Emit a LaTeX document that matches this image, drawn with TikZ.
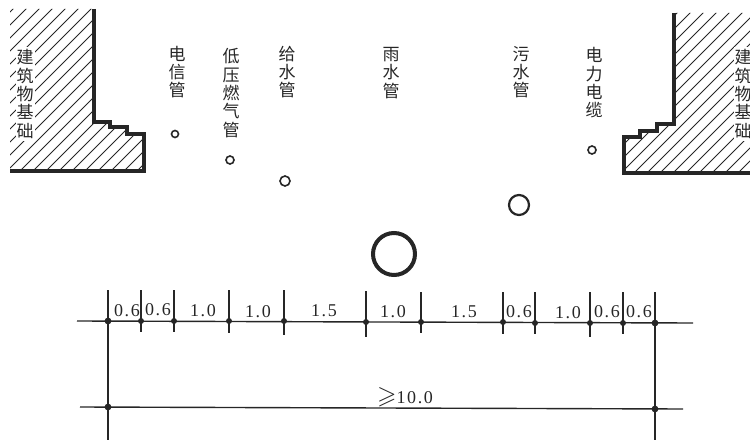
\documentclass[tikz,border=0pt]{standalone}
\usepackage{amsmath,amssymb}
\usepackage{fontspec}
\newfontfamily\cjk{Noto Sans CJK SC}
\newfontfamily\dmfont[LetterSpace=9]{Liberation Serif}
\definecolor{ink}{HTML}{262626}
\newcommand{\sz}{\fontsize{17}{18.3}\selectfont}
\newcommand{\dm}[1]{\dmfont\fontsize{18}{18}\selectfont #1}
\tikzset{
	pipename/.style={align=center,inner sep=0pt,font=\cjk\sz,text=ink},
	basename/.style={pipename,fill=white,inner xsep=1pt,inner ysep=3pt},
	size/.style={inner sep=0pt,text=ink},
	pipe/.style={draw=ink,line width=1.6pt},
	dimline/.style={ink,line width=1.4pt},
}

\begin{document}
\begin{tikzpicture}[x=1pt,y=-1pt]
	\useasboundingbox (0,0) rectangle (750,441);
	
	% left base
	\begin{scope}
		\clip (10,9)--(94,9)--(94,122)--(110,122)--(110,127)--(127,127)--(127,134)--(144,134)--(144,171)--(10,171)--cycle;
		\foreach \c in {22,35,...,320}
			\draw[ink,line width=.9pt] (\c,0)--(0,\c);
	\end{scope}
	\draw[ink,line width=3.2pt] (94,9)--(94,122)--(110,122)--(110,127)--(127,127)--(127,134)--(144,134)--(144,171)--(10,171);
	\node[basename] (baseL) at (25,94) {建\\筑\\物\\基\\础};
	
	% right base
	\begin{scope}
		\clip (674,13)--(750,13)--(750,173)--(624,173)--(624,137)--(640,137)--(640,131)--(657,131)--(657,124)--(674,124)--cycle;
		\foreach \c in {690,703,...,950}
			\draw[ink,line width=.9pt] (\c,0)--(0,\c);
	\end{scope}
	\draw[ink,line width=3.2pt] (674,13)--(674,124)--(657,124)--(657,131)--(640,131)--(640,137)--(624,137)--(624,173)--(750,173);
	\node[basename] (baseR) at (743,94) {建\\筑\\物\\基\\础};
	
	% pipes
	\node[pipename] (telecom) at (177,72) {电\\信\\管};
	\node[pipename] (gas) at (231,93) {低\\压\\燃\\气\\管};
	\node[pipename] (water) at (287,72) {给\\水\\管};
	\node[pipename] (rain) at (391,73) {雨\\水\\管};
	\node[pipename] (sewage) at (521,72) {污\\水\\管};
	\node[pipename] (power) at (594,83) {电\\力\\电\\缆};
	\draw[pipe] (175,134) circle(3.5);
	\draw[pipe] (230,160) circle(4);
	\draw[pipe] (285,181) circle(5);
	\draw[draw=ink,line width=4pt] (394,254) circle(21);
	\draw[draw=ink,line width=2.2pt] (519,205) circle(10);
	\draw[pipe] (592,150) circle(4);
	
	% dimensions
	\coordinate (topL) at (77,321);
	\coordinate (topR) at (693,323);
	\coordinate (lowL) at (80,407);
	\coordinate (lowR) at (683,409);
	\draw[dimline] (topL)--(topR);
	\draw[dimline] (lowL)--(lowR);
	\draw[dimline] (108,290)--(108,440);
	\draw[dimline] (655,292)--(655,440);
	\foreach \x/\y/\a/\b in {141/321/290/332,174/321/290/332,229/321/290/333,284/321/290/335,366/322/291/337,421/322/292/333,503/322/292/334,535/323/292/334,590/323/292/337,623/323/292/334}
	{
		\draw[dimline] (\x,\a)--(\x,\b);
		\fill[ink] (\x,\y) circle(3);
	}
	\foreach \x/\y in {108/321,655/323,108/407,655/409}
		\fill[ink] (\x,\y) circle(3.4);
	
	\foreach \x/\y/\t in {127/311/0.6,158/310/0.6,203/311/1.0,258/312/1.0,324/311/1.5,393/312/1.0,464/312/1.5,519/312/0.6,568/313/1.0,607/312/0.6,639/312/0.6}
		\node[size] at (\x,\y) {\dm{\t}};
	\node[size] (total) at (405,397) {{\fontsize{25}{25}\selectfont$\geqslant$}\dm{10.0}};
\end{tikzpicture}
\end{document}
